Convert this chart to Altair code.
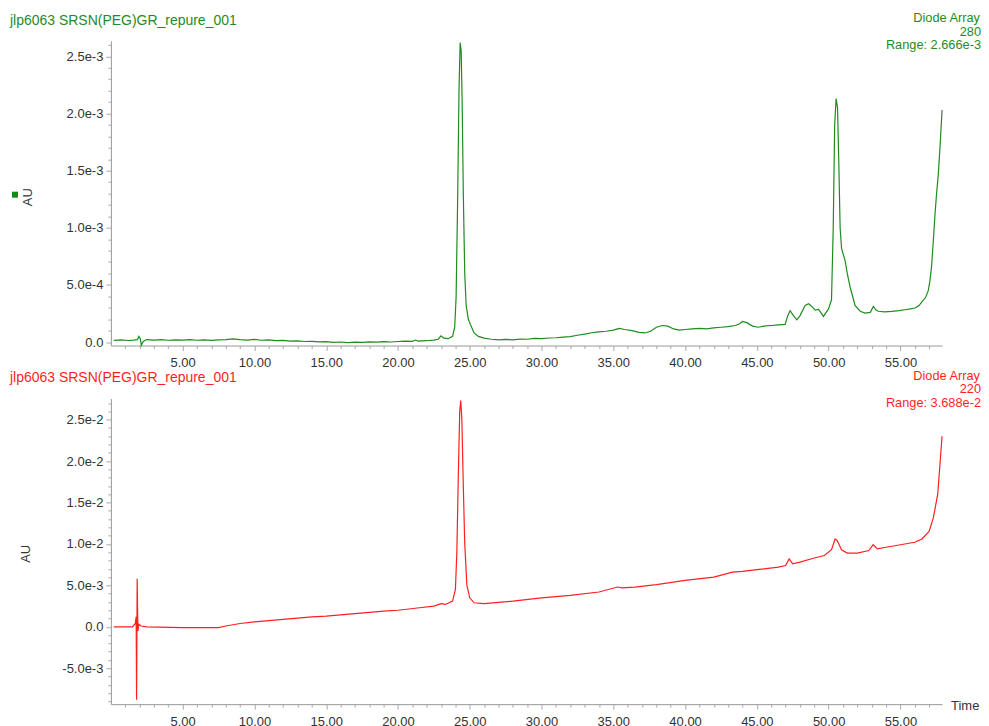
import altair as alt
import pandas as pd

FONT = "Liberation Sans"
GREEN = "#1e8c1e"
RED = "#ff1f1f"

sample_name = "jlp6063 SRSN(PEG)GR_repure_001"

# ---- 280 nm trace (top) ----
green_t = [0.2, 0.7, 1.2, 1.6, 1.85, 1.95, 2.05, 2.12, 2.25, 2.5, 3.0, 3.5, 4.0, 4.5, 5.0, 5.5,
           6.0, 6.5, 7.0, 7.5, 8.0, 8.5, 9.0, 9.5, 10.0, 10.5, 11.0, 11.5, 12.0, 12.5, 13.0, 13.5,
           14.0, 14.5, 15.0, 15.5, 16.0, 16.5, 17.0, 17.5, 18.0, 18.5, 19.0, 19.5, 20.0, 20.5,
           21.0, 21.2, 21.4, 22.0, 22.5, 22.8, 23.0, 23.2, 23.5, 23.8, 23.95, 24.05, 24.15, 24.25,
           24.33, 24.4, 24.47, 24.55, 24.65, 24.75, 24.9, 25.06, 25.3, 25.6, 26.0, 26.5, 27.0,
           27.5, 28.0, 28.5, 29.0, 29.5, 30.0, 30.5, 31.0, 31.5, 32.0, 32.5, 33.0, 33.5, 34.0,
           34.5, 35.0, 35.4, 35.8, 36.3, 36.8, 37.2, 37.6, 38.0, 38.4, 38.8, 39.2, 39.6, 40.0,
           40.5, 41.0, 41.5, 42.0, 42.5, 43.0, 43.5, 43.8, 44.0, 44.3, 44.7, 45.1, 45.6, 46.0,
           46.5, 46.97, 47.15, 47.32, 47.5, 47.78, 48.0, 48.36, 48.6, 48.85, 49.06, 49.3, 49.64,
           49.99, 50.2, 50.32, 50.42, 50.52, 50.62, 50.72, 50.8, 50.9, 51.15, 51.3, 51.5, 51.84,
           52.2, 52.54, 52.9, 53.12, 53.3, 53.46, 53.9, 54.39, 54.9, 55.32, 55.7, 56.02, 56.3,
           56.48, 56.75, 56.94, 57.06, 57.17, 57.3, 57.41, 57.52, 57.64, 57.78, 57.9]
green_v = [1.5e-5, 1.9e-5, 1.4e-5, 1.8e-5, 2.2e-5, 5.0e-5, 3.0e-5, -2.8e-5, 0.5e-5, 2.2e-5,
           1.7e-5, 2.1e-5, 1.6e-5, 2.0e-5, 1.8e-5, 2.2e-5, 1.6e-5, 2.0e-5, 1.5e-5, 1.9e-5,
           2.2e-5, 2.8e-5, 2.2e-5, 1.8e-5, 2.3e-5, 1.6e-5, 1.9e-5, 1.3e-5, 1.5e-5, 0.9e-5,
           1.1e-5, 0.5e-5, 0.7e-5, 0.2e-5, 0.4e-5, -0.2e-5, 0.1e-5, -0.4e-5, -0.1e-5, -0.3e-5,
           0.2e-5, 0.0, 0.4e-5, 0.1e-5, 0.5e-5, 0.9e-5, 0.6e-5, 1.8e-5, 0.8e-5, 1.2e-5, 1.8e-5,
           2.5e-5, 5.5e-5, 3.5e-5, 3.0e-5, 5.0e-5, 1.3e-4, 4.0e-4, 1.2e-3, 2.2e-3, 2.62e-3,
           2.55e-3, 2.1e-3, 1.3e-3, 6.0e-4, 3.2e-4, 2.0e-4, 1.5e-4, 8.0e-5, 5.0e-5, 3.5e-5,
           2.5e-5, 2.0e-5, 2.3e-5, 2.0e-5, 2.6e-5, 2.5e-5, 3.2e-5, 3.0e-5, 3.6e-5, 3.8e-5,
           4.4e-5, 4.8e-5, 6.0e-5, 7.0e-5, 8.2e-5, 9.0e-5, 9.5e-5, 1.05e-4, 1.2e-4, 1.1e-4,
           1.0e-4, 8.5e-5, 8.0e-5, 9.5e-5, 1.3e-4, 1.45e-4, 1.4e-4, 1.15e-4, 1.05e-4, 1.1e-4,
           1.15e-4, 1.2e-4, 1.15e-4, 1.25e-4, 1.3e-4, 1.35e-4, 1.45e-4, 1.6e-4, 1.8e-4, 1.7e-4,
           1.4e-4, 1.3e-4, 1.42e-4, 1.45e-4, 1.5e-4, 1.55e-4, 2.3e-4, 2.75e-4, 2.4e-4, 1.95e-4,
           2.3e-4, 3.2e-4, 3.35e-4, 3.1e-4, 2.8e-4, 2.85e-4, 2.25e-4, 2.9e-4, 3.7e-4, 1.0e-3,
           1.9e-3, 2.13e-3, 2.05e-3, 1.5e-3, 1.0e-3, 8.2e-4, 7.1e-4, 6.0e-4, 4.8e-4, 3.2e-4,
           2.7e-4, 2.54e-4, 2.6e-4, 3.12e-4, 2.8e-4, 2.7e-4, 2.65e-4, 2.69e-4, 2.75e-4, 2.83e-4,
           2.9e-4, 2.98e-4, 3.2e-4, 3.5e-4, 3.9e-4, 4.5e-4, 5.4e-4, 6.6e-4, 9.0e-4, 1.12e-3,
           1.3e-3, 1.47e-3, 1.75e-3, 2.03e-3]

# ---- 220 nm trace (bottom) ----
red_t = [0.2, 1.5, 1.7, 1.76, 1.79, 1.83, 1.88, 1.95, 2.1, 2.5, 5.0, 7.5, 8.0, 9.0, 10.0, 12.0,
         14.0, 15.0, 17.0, 19.0, 20.0, 21.5, 22.5, 23.0, 23.3, 23.8, 24.0, 24.1, 24.2, 24.3,
         24.37, 24.45, 24.55, 24.65, 24.8, 25.0, 25.3, 26.0, 28.0, 30.0, 32.0, 34.0, 35.3, 35.6,
         36.5, 38.0, 40.0, 42.0, 43.3, 44.0, 45.0, 46.5, 47.0, 47.25, 47.5, 48.0, 49.0, 49.7,
         50.2, 50.45, 50.6, 50.9, 51.3, 52.0, 52.8, 53.1, 53.4, 54.0, 55.0, 56.0, 56.5, 57.0,
         57.3, 57.6, 57.9]
red_v = [0.0, 0.0, 0.0004, 0.0012, -0.0088, 0.0058, -0.0005, 0.0003, 0.0001, 0.0, -0.0001,
         -0.0001, 0.0001, 0.0004, 0.0006, 0.0009, 0.0012, 0.0013, 0.0016, 0.0019, 0.0020,
         0.0023, 0.0025, 0.0028, 0.0027, 0.0031, 0.0045, 0.009, 0.018, 0.026, 0.0273, 0.025,
         0.017, 0.010, 0.005, 0.0035, 0.0029, 0.0028, 0.0031, 0.0035, 0.0038, 0.0042, 0.0048,
         0.0047, 0.0048, 0.0051, 0.0056, 0.0060, 0.0066, 0.0067, 0.0069, 0.0072, 0.0074, 0.0082,
         0.0076, 0.0078, 0.0083, 0.0086, 0.0093, 0.0106, 0.0104, 0.0093, 0.0089, 0.0089, 0.0092,
         0.0099, 0.0094, 0.0096, 0.0099, 0.0102, 0.0106, 0.0115, 0.0132, 0.0160, 0.0230]

x_tick_values = list(range(1, 58))
top_y_ticks = [i * 1e-4 for i in range(0, 27)]
bot_y_ticks = [i * 1e-3 for i in range(-9, 28)]

top_header = ["Diode Array", "280", "Range: 2.666e-3"]
bot_header = ["Diode Array", "220", "Range: 3.688e-2"]

W = 832
H_TOP = 305
H_BOT = 306

x_axis = alt.Axis(
    values=x_tick_values,
    labelExpr="datum.value % 5 == 0 ? format(datum.value, '.2f') : ''",
    tickSize={"condition": {"test": "datum.value % 5 == 0", "value": 5}, "value": 3},
    labelOverlap=False, labelFlush=False, grid=False, title=None, labelPadding=6,
)


def y_axis(vals, scale_exp, titleX, titleY):
    lab = ("round(datum.value*%s) %% 5 == 0 ? (abs(datum.value) < 1e-12 ? '0.0' : "
           "replace(format(datum.value, '.1e'), '\u2212', '-')) : ''") % scale_exp
    return alt.Axis(
        values=vals, labelExpr=lab,
        tickSize={"condition": {"test": "round(datum.value*%s) %% 5 == 0" % scale_exp, "value": 5},
                  "value": 3},
        labelOverlap=False, labelFlush=False, grid=False, title="AU",
        titleAngle=270, titleX=titleX, titleY=titleY, titleAlign="center",
        titleBaseline="middle", labelPadding=3,
    )


def text_layer(s, color, x, y, align, size=13.0):
    return alt.Chart(pd.DataFrame({"s": [s]})).mark_text(
        align=align, baseline="middle", font=FONT, fontSize=size, color=color
    ).encode(x=alt.value(x), y=alt.value(y), text="s:N")


def panel(t, v, color, ydomain, yvals, sexp, header, h, titleX, titleY, extra):
    df = pd.DataFrame({"t": t, "v": v})
    line = alt.Chart(df).mark_line(color=color, strokeWidth=1.2).encode(
        x=alt.X("t:Q", scale=alt.Scale(domain=[0, 57.9], nice=False, zero=False), axis=x_axis),
        y=alt.Y("v:Q", scale=alt.Scale(domain=ydomain, nice=False, zero=False),
                axis=y_axis(yvals, sexp, titleX, titleY)),
    )
    layers = [line,
              text_layer(sample_name, color, -101, -20, "left", 14),
              text_layer(header[0], color, W + 38, -22.5, "right", 12.8),
              text_layer(header[1], color, W + 39, -9.2, "right", 12.8),
              text_layer(header[2], color, W + 39, 4.1, "right", 12.8)] + extra
    return alt.layer(*layers).properties(width=W, height=h)


square = alt.Chart(pd.DataFrame({"s": ["m"]})).mark_square(
    color="#138a13", filled=True, size=36, opacity=1
).encode(x=alt.value(-96), y=alt.value(154))

time_lbl = text_layer("Time", "#333333", W + 9, H_BOT + 2, "left", 13)

top = panel(green_t, green_v, GREEN, [-3e-5, 2.636e-3], top_y_ticks, "1e4", top_header,
            H_TOP, -83, 156, [square])
bottom = panel(red_t, red_v, RED, [-9.33e-3, 2.755e-2], bot_y_ticks, "1e3", bot_header,
               H_BOT, -85, 155, [time_lbl])

chart = alt.vconcat(top, bottom, spacing=53, bounds="flush").properties(
    padding={"left": 2, "top": 3.5, "right": 0, "bottom": 0}
).configure_view(stroke=None).configure_axis(
    labelFont=FONT, titleFont=FONT, labelFontSize=13, titleFontSize=13,
    labelColor="#333333", titleColor="#333333", titleFontWeight="normal",
    domainColor="#999999", tickColor="#aaaaaa",
)

chart.save("out.html", embed_options={"renderer": "svg", "actions": False})
